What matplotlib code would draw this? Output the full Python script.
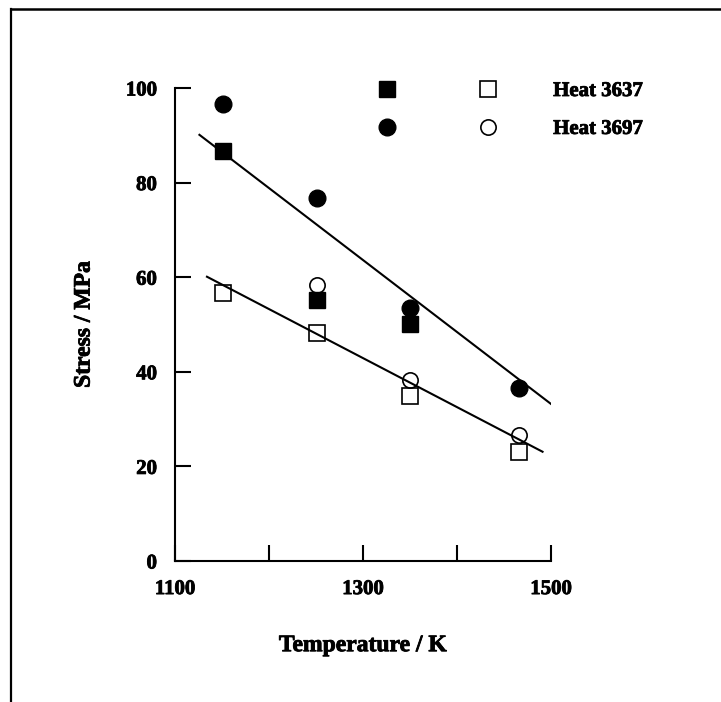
import matplotlib
matplotlib.use('Agg')
import matplotlib.pyplot as plt
import matplotlib.patheffects as pe
from matplotlib.lines import Line2D
from matplotlib.legend_handler import HandlerTuple

# Datos
temp = [1151, 1251, 1350, 1466]
temp_3637_llenos = [1151, 1251, 1350]
stress_3637_llenos = [86.7, 55.2, 50.2]
stress_3637_vacios = [56.7, 48.3, 34.9, 23.1]
stress_3697_llenos = [96.6, 76.7, 53.4, 36.5]
temp_3697_vacios = [1251, 1350, 1466]
stress_3697_vacios = [58.4, 38.3, 26.6]

# rectas de ajuste (extremos)
ajuste_sup_T = [1126, 1500]
ajuste_sup_S = [90.1, 33.2]
ajuste_inf_T = [1134, 1491]
ajuste_inf_S = [60.1, 23.1]

xticks = [1100, 1200, 1300, 1400, 1500]
xtick_labels = ['1100', '', '1300', '', '1500']
yticks = [0, 20, 40, 60, 80, 100]
series = ['Heat 3637', 'Heat 3697']

plt.rcParams['font.family'] = ['Liberation Serif', 'DejaVu Serif']
plt.rcParams['font.weight'] = 'bold'

W, H = 721, 702
fig = plt.figure(figsize=(W / 100, H / 100), dpi=100)
ax = fig.add_axes([175 / W, 1 - 561 / H, 376 / W, 473 / H])

ms = 12
ax.plot(ajuste_sup_T, ajuste_sup_S, color='black', lw=1.5, zorder=3)
ax.plot(ajuste_inf_T, ajuste_inf_S, color='black', lw=1.5, zorder=3)

h1 = ax.plot(temp_3637_llenos, stress_3637_llenos, 's', color='black', ms=ms, ls='none', zorder=2)[0]
h2 = ax.plot(temp, stress_3637_vacios, 's', mfc='none', mec='black', mew=1.2, ms=ms, ls='none', zorder=2)[0]
h3 = ax.plot(temp, stress_3697_llenos, 'o', color='black', ms=ms, ls='none', zorder=2)[0]
h4 = ax.plot(temp_3697_vacios, stress_3697_vacios, 'o', mfc='none', mec='black', mew=1.2, ms=ms - 1, ls='none', zorder=2)[0]

ax.set_xlim(1100, 1500)
ax.set_ylim(0, 100)
ax.set_xticks(xticks)
ax.set_xticklabels(xtick_labels)
ax.set_yticks(yticks)
ax.tick_params(direction='in', length=11.5, width=1.5, pad=13, labelsize=15)
for s in ['top', 'right']:
    ax.spines[s].set_visible(False)
for s in ['left', 'bottom']:
    ax.spines[s].set_linewidth(1.5)

ax.set_xlabel('Temperature / K', fontsize=17, fontweight='bold', labelpad=26)
ax.set_ylabel('Stress / MPa', fontsize=17, fontweight='bold', labelpad=22.5)

leg = ax.legend([(h1, h2), (h3, h4)], series,
                handler_map={tuple: HandlerTuple(ndivide=None, pad=0)},
                handlelength=9.7, handletextpad=0.7, labelspacing=0.86,
                fontsize=15, frameon=False, borderpad=0, borderaxespad=0,
                loc='upper left', bbox_to_anchor=(336.5 / W, 1 - 81 / H),
                bbox_transform=fig.transFigure)

# texto algo mas grueso, como en el escaneo
grueso = [pe.withStroke(linewidth=0.6, foreground='black')]
textos = ax.get_xticklabels() + ax.get_yticklabels() + leg.get_texts()
textos += [ax.xaxis.label, ax.yaxis.label]
for t in textos:
    t.set_path_effects(grueso)

# marco del escaneo (solo arriba e izquierda)
fig.add_artist(Line2D([11 / W, 11 / W], [0, 1 - 9 / H], color='black', lw=1.6, transform=fig.transFigure))
fig.add_artist(Line2D([11 / W, 1], [1 - 9 / H, 1 - 9 / H], color='black', lw=1.8, transform=fig.transFigure))

fig.savefig('out.png', dpi=100)
